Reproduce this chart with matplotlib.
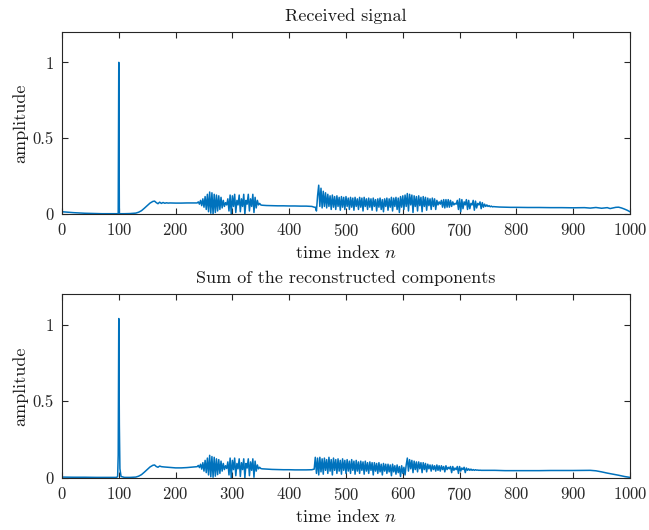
import numpy as np
import matplotlib
matplotlib.use("Agg")
import matplotlib.pyplot as plt

plt.rcParams["font.family"] = "cmr10"
plt.rcParams["mathtext.fontset"] = "cm"
plt.rcParams["axes.formatter.use_mathtext"] = True

# ---- Received signal ----
# smooth part before the first burst
recv_n_a = [0, 10, 20, 30, 40, 50, 60, 70, 80, 90, 98, 99, 100, 101, 102, 110, 120, 130, 135,
            140, 145, 150, 155, 160, 163, 166, 169, 172, 175, 178, 181, 184, 187, 190, 200,
            210, 220, 230, 238]
recv_a = [.015, .012, .009, .007, .005, .004, .003, .002, .002, .002, .002, .002, 1.0, .002,
          .002, .002, .003, .006, .012, .022, .038, .055, .072, .083, .085, .075, .068, .078,
          .070, .076, .071, .074, .072, .073, .072, .072, .073, .073, .073]
# burst 240..350, every 2nd sample
recv_b_start = 240
recv_b = [.080, .065, .090, .055, .100, .045, .115, .030, .130, .015,
          .145, .005, .140, .000, .130, .010, .125, .020, .120, .030,
          .110, .040, .090, .050, .075, .060, .100, .020, .125, .000,
          .120, .050, .130, .010, .090, .060, .125, .015, .100, .050,
          .130, .000, .090, .065, .130, .020, .100, .050, .130, .010,
          .110, .040, .090, .060, .070, .060]
recv_n_c = [352, 360, 370, 380, 390, 400, 410, 420, 430, 440, 444]
recv_c = [.058, .056, .055, .054, .054, .053, .053, .052, .052, .050, .045]
# long burst 446..760, every 2nd sample
recv_d_start = 446
recv_d = [.045, .020, .120, .190, .050, .170, .040, .150, .050, .140,
          .040, .130, .050, .120, .030, .125, .045, .115, .030, .120,
          .050, .110, .025, .115, .045, .110, .030, .115, .050, .105,
          .030, .110, .045, .105, .025, .110, .050, .100, .030, .110,
          .045, .105, .020, .110, .050, .100, .030, .105, .045, .100,
          .025, .105, .050, .095, .020, .100, .045, .105, .030, .095,
          .015, .100, .050, .105, .025, .100, .045, .110, .020, .105,
          .050, .110, .030, .105, .010, .115, .045, .120, .030, .125,
          .050, .135, .020, .130, .060, .125, .010, .120, .050, .115,
          .020, .120, .055, .110, .015, .115, .050, .110, .025, .105,
          .055, .100, .030, .105, .050, .100, .030, .090, .060, .080,
          .065, .090, .045, .095, .040, .095, .045, .095, .045, .090,
          .050, .080, .060, .070, .065, .090, .030, .100, .015, .095,
          .035, .080, .060, .095, .030, .090, .035, .070, .060, .090,
          .025, .085, .040, .070, .060, .080, .035, .075, .045, .065,
          .050, .060, .050, .055, .048, .052, .047, .049]
recv_n_e = [762, 770, 780, 790, 800, 820, 840, 860, 880, 900, 920, 930, 940, 950, 960,
            965, 970, 975, 980, 985, 990, 995, 1000]
recv_e = [.048, .046, .045, .044, .044, .043, .043, .042, .042, .041, .042, .039, .043, .038,
          .042, .036, .040, .044, .045, .040, .033, .025, .015]

# ---- Sum of the reconstructed components ----
rec_n_a = [0, 20, 40, 60, 80, 96, 98, 99, 100, 101, 102, 104, 110, 120, 130, 135, 140, 145,
           150, 155, 160, 163, 166, 169, 172, 175, 180, 190, 200, 210, 220, 230, 238]
rec_a = [.006, .005, .005, .004, .004, .004, .010, .150, 1.04, .350, .060, .010, .004, .004,
         .006, .012, .022, .038, .055, .072, .083, .085, .075, .070, .078, .074, .072, .069,
         .066, .066, .068, .071, .074]
rec_b_start = 240
rec_b = [.082, .068, .090, .058, .100, .045, .115, .035, .130, .020,
         .148, .008, .140, .005, .135, .012, .125, .022, .120, .030,
         .110, .045, .095, .055, .080, .062, .105, .020, .130, .000,
         .115, .055, .130, .015, .095, .060, .125, .010, .100, .055,
         .125, .000, .095, .065, .125, .015, .105, .050, .125, .005,
         .110, .045, .085, .060, .070, .062]
rec_n_c = [352, 360, 370, 380, 390, 400, 410, 420, 430, 440, 444]
rec_c = [.060, .058, .056, .055, .054, .054, .053, .053, .053, .054, .058]
rec_d_start = 446
rec_d = [.135, .030, .130, .020, .135, .040, .125, .025, .130, .050,
         .120, .030, .135, .045, .120, .020, .130, .050, .120, .030,
         .125, .045, .115, .025, .125, .050, .115, .030, .120, .045,
         .110, .030, .120, .050, .110, .025, .115, .045, .105, .030,
         .110, .050, .105, .025, .110, .045, .100, .030, .105, .050,
         .100, .020, .100, .045, .095, .030, .100, .040, .090, .020,
         .095, .045, .090, .030, .090, .040, .085, .015, .090, .040,
         .080, .025, .085, .035, .075, .010, .080, .030, .070, .020,
         .085, .130, .045, .120, .060, .115, .035, .110, .055, .105,
         .040, .105, .060, .100, .035, .100, .055, .095, .040, .090,
         .060, .085, .045, .085, .055, .080, .045, .085, .050, .080,
         .045, .080, .055, .075, .040, .080, .055, .070, .060, .075,
         .035, .075, .050, .065, .055, .075, .030, .075, .045, .065,
         .055, .070, .035, .065, .050, .060, .050, .058, .050, .055,
         .050, .054, .051, .052, .050, .051, .050, .050]
rec_n_e = [762, 770, 780, 800, 820, 840, 860, 880, 900, 920, 930, 940, 950, 960, 970, 980,
           990, 1000]
rec_e = [.050, .049, .048, .048, .048, .048, .049, .049, .049, .050, .050, .047, .040, .032,
         .025, .018, .010, .004]


def build(n_a, a, b_start, b, n_c, c, d_start, d, n_e, e):
    n = list(n_a) + list(b_start + 2 * np.arange(len(b))) + list(n_c) \
        + list(d_start + 2 * np.arange(len(d))) + list(n_e)
    y = list(a) + list(b) + list(c) + list(d) + list(e)
    return np.array(n), np.array(y)


n1, y1 = build(recv_n_a, recv_a, recv_b_start, recv_b, recv_n_c, recv_c,
               recv_d_start, recv_d, recv_n_e, recv_e)
n2, y2 = build(rec_n_a, rec_a, rec_b_start, rec_b, rec_n_c, rec_c,
               rec_d_start, rec_d, rec_n_e, rec_e)

fig = plt.figure(figsize=(6.49, 5.30), dpi=100)
ax1 = fig.add_axes([0.0955, 0.5962, 0.8752, 0.3434])
ax2 = fig.add_axes([0.0955, 0.0981, 0.8752, 0.3472])

for ax, n, y, title in [(ax1, n1, y1, "Received signal"),
                        (ax2, n2, y2, "Sum of the reconstructed components")]:
    ax.plot(n, y, color="#0072BD", lw=1.1)
    ax.set_xlim(0, 1000)
    ax.set_ylim(0, 1.2)
    ax.set_xticks(np.arange(0, 1001, 100))
    ax.set_yticks([0, 0.5, 1])
    ax.set_yticklabels(["0", "0.5", "1"])
    ax.tick_params(direction="in", top=True, right=True, labelsize=12,
                   color="0.15", labelcolor="0.15", length=4, pad=6)
    for s in ax.spines.values():
        s.set_color("0.15")
        s.set_linewidth(0.8)
    ax.set_title(title, fontsize=13, color="0.1", pad=8)
    ax.set_xlabel("time index $n$", fontsize=13, color="0.1", labelpad=3)
    ax.set_ylabel("amplitude", fontsize=13, color="0.1", labelpad=3)

fig.savefig("out.png", dpi=100)
